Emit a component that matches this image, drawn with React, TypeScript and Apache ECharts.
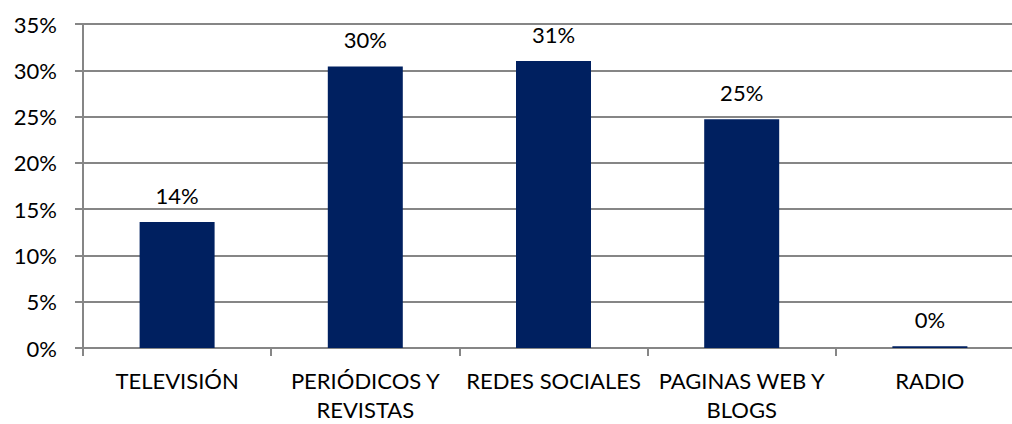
import React, { useEffect, useRef } from "react";
import * as echarts from "echarts";

const categories = ["TELEVISIÓN", "PERIÓDICOS Y\nREVISTAS", "REDES SOCIALES", "PAGINAS WEB Y\nBLOGS", "RADIO"];
const values = [13.6, 30.4, 31.0, 24.7, 0.2];
const yTicks = [0, 5, 10, 15, 20, 25, 30, 35];

export default function App() {
  const ref = useRef<HTMLDivElement>(null);
  useEffect(() => {
    if (!ref.current) return;
    const chart = echarts.init(ref.current, null, { renderer: "svg" });
    chart.setOption({
      animation: false,
      backgroundColor: "#ffffff",
      grid: { left: 83, top: 24, width: 941, height: 324, containLabel: false, outerBoundsMode: "none" },
      xAxis: {
        type: "category",
        data: categories,
        axisLine: { show: true, lineStyle: { color: "#868686", width: 2 } },
        axisTick: { show: true, length: 8, lineStyle: { color: "#868686", width: 2 } },
        axisLabel: {
          color: "#000",
          fontFamily: "Lato",
          fontSize: 22,
          lineHeight: 29,
          margin: 18,
          interval: 0,
        },
      },
      yAxis: {
        type: "value",
        min: yTicks[0],
        max: yTicks[yTicks.length - 1],
        interval: 5,
        axisLine: { show: true, lineStyle: { color: "#868686", width: 2 } },
        axisTick: { show: true, length: 8, lineStyle: { color: "#868686", width: 2 } },
        splitLine: { show: true, lineStyle: { color: "#868686", width: 2 } },
        axisLabel: {
          color: "#000",
          fontFamily: "Lato",
          fontSize: 22,
          margin: 26,
          formatter: (v: number) => v + "%",
        },
      },
      series: [
        {
          type: "bar",
          data: values,
          barWidth: 75,
          itemStyle: { color: "#002060" },
          label: {
            show: true,
            position: "top",
            distance: 16,
            color: "#000",
            fontFamily: "Lato",
            fontSize: 22,
            formatter: (p: any) => Math.round(p.value) + "%",
          },
        },
      ],
    });
    return () => chart.dispose();
  }, []);
  return (
    <div
      ref={ref}
      style={{ position: "absolute", left: 0, top: 0, width: 1012, height: 424, overflow: "hidden" }}
    />
  );
}
